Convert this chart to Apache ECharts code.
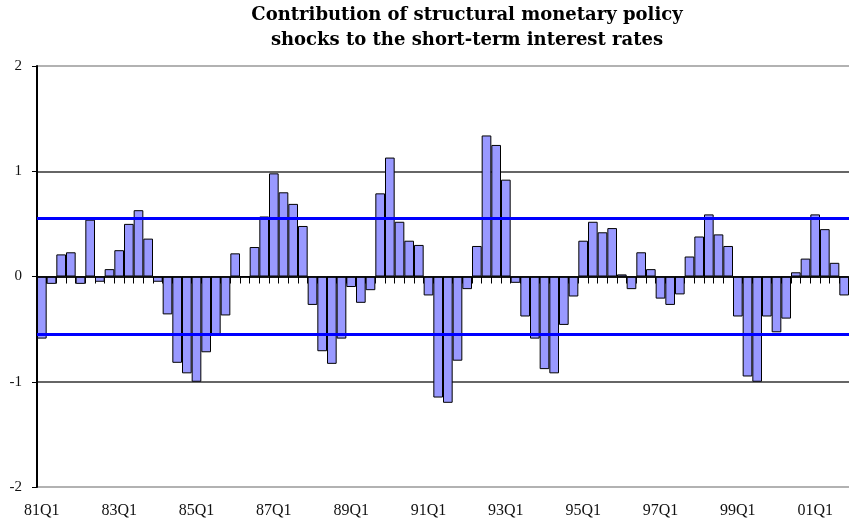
<!DOCTYPE html>
<html>
<head>
<meta charset="utf-8">
<script src="https://cdn.jsdelivr.net/npm/echarts@6/dist/echarts.min.js"></script>
<style>
  html, body { margin: 0; padding: 0; background: #fff; }
  #chart { width: 849px; height: 520px; }
</style>
</head>
<body>
<div id="chart"></div>
<script>
// quarters 81Q1 .. 01Q4
const quarters = [];
for (let y = 81; y < 102; y++) {
    for (let q = 1; q <= 4; q++) {
        quarters.push(String(y % 100).padStart(2, '0') + 'Q' + q);
    }
}

// contribution of monetary policy shocks, one value per quarter
const shocks = [
    -0.59, -0.07, 0.21, 0.23, -0.07, 0.54, -0.05, 0.07,
    0.25, 0.50, 0.63, 0.36, -0.05, -0.36, -0.82, -0.92,
    -1.00, -0.72, -0.56, -0.37, 0.22, 0.00, 0.28, 0.57,
    0.98, 0.80, 0.69, 0.48, -0.27, -0.71, -0.83, -0.59,
    -0.10, -0.25, -0.13, 0.79, 1.13, 0.52, 0.34, 0.30,
    -0.18, -1.15, -1.20, -0.80, -0.12, 0.29, 1.34, 1.25,
    0.92, -0.06, -0.38, -0.59, -0.88, -0.92, -0.46, -0.19,
    0.34, 0.52, 0.42, 0.46, 0.02, -0.12, 0.23, 0.07,
    -0.21, -0.27, -0.17, 0.19, 0.38, 0.59, 0.40, 0.29,
    -0.38, -0.95, -1.00, -0.38, -0.53, -0.40, 0.04, 0.17,
    0.59, 0.45, 0.13, -0.18
];

// +/- band (blue lines)
const bands = [0.55, -0.55];

const titleText = 'Contribution of structural monetary policy\nshocks to the short-term interest rates';

const chart = echarts.init(document.getElementById('chart'));

const option = {
    animation: false,
    backgroundColor: '#fff',
    graphic: [{
        type: 'text',
        x: 467,
        y: 3,
        style: {
            text: titleText,
            font: 'bold 18px "DejaVu Serif"',
            fill: '#000',
            align: 'center',
            textAlign: 'center',
            lineHeight: 25
        }
    }],
    grid: {
        left: 37,
        top: 66,
        width: 821,
        height: 421
    },
    xAxis: [
        {
            // zero line with the small ticks
            type: 'category',
            data: quarters,
            position: 'bottom',
            z: 5,
            axisLine: { onZero: true, lineStyle: { color: '#000', width: 1.5 } },
            axisTick: { show: true, interval: 0, length: 7, lineStyle: { color: '#000', width: 1 } },
            axisLabel: { show: false },
            splitLine: { show: false }
        },
        {
            // labels along the bottom
            type: 'category',
            data: quarters,
            position: 'bottom',
            axisLine: { show: false, onZero: false },
            axisTick: { show: false },
            axisLabel: {
                interval: 7,
                margin: 16,
                color: '#111',
                fontFamily: 'Liberation Serif',
                fontSize: 16
            },
            splitLine: { show: false }
        }
    ],
    yAxis: {
        type: 'value',
        min: -2,
        max: 2,
        interval: 1,
        axisLine: { show: true, lineStyle: { color: '#000', width: 2 } },
        axisTick: { show: true, length: 5, lineStyle: { color: '#000' } },
        axisLabel: {
            margin: 15,
            color: '#111',
            fontFamily: 'Liberation Serif',
            fontSize: 15
        },
        splitLine: {
            lineStyle: {
                color: ['#999', '#333', '#333', '#333', '#999'],
                width: 1.5
            }
        }
    },
    series: [{
        type: 'bar',
        data: shocks,
        xAxisIndex: 0,
        barCategoryGap: '0%',
        itemStyle: {
            color: '#9999ff',
            borderColor: '#000',
            borderWidth: 1
        },
        markLine: {
            silent: true,
            symbol: ['none', 'none'],
            label: { show: false },
            lineStyle: { color: '#0000ff', width: 3, type: 'solid' },
            data: bands.map(v => ({ yAxis: v }))
        }
    }]
};

chart.setOption(option);
</script>
</body>
</html>
